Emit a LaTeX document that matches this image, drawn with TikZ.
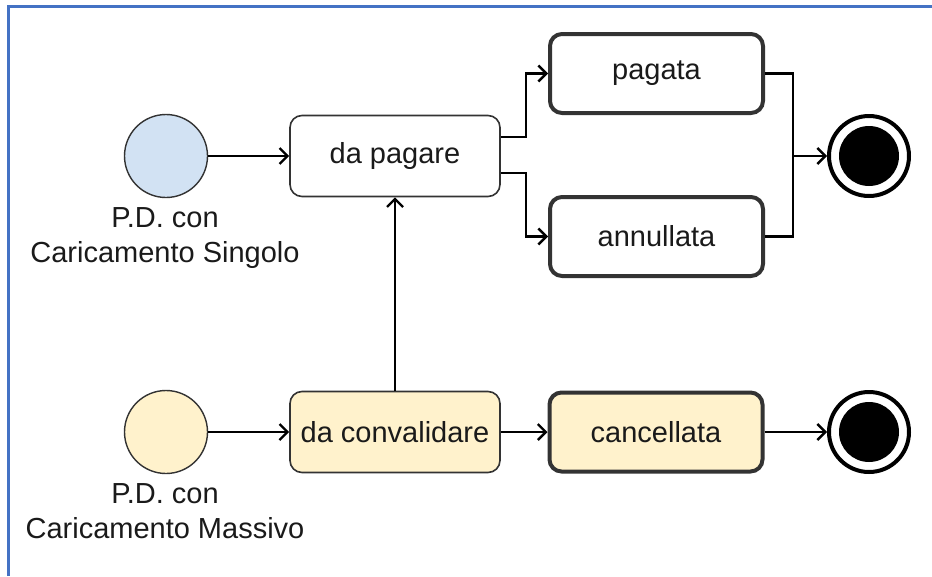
\documentclass[tikz,border=0pt]{standalone}
\usepackage{fontspec}
\setmainfont{Liberation Sans}
\usetikzlibrary{arrows.meta}
\definecolor{frameblue}{HTML}{4472C4}
\definecolor{startblue}{HTML}{D2E2F3}
\definecolor{paleyellow}{HTML}{FFF2CC}
\definecolor{edge}{HTML}{333333}
\definecolor{txt}{HTML}{1A1A1A}
\tikzset{
  big/.style={font=\fontsize{29}{35}\selectfont, text=txt},
  thinbox/.style={big, rectangle, rounded corners=12pt, draw=edge, line width=1.6pt,
    minimum width=210pt, minimum height=81pt, inner sep=0pt, fill=white},
  thickbox/.style={big, rectangle, rounded corners=12pt, draw=edge, line width=4pt,
    minimum width=213pt, minimum height=79pt, inner sep=0pt, fill=white},
  startnode/.style={circle, draw=edge, line width=1.4pt, minimum size=83pt, inner sep=0pt},
  endouter/.style={circle, draw=black, line width=4pt, minimum size=80pt, inner sep=0pt, fill=white},
  endinner/.style={circle, fill=black, minimum size=60pt, inner sep=0pt},
  lbl/.style={big, align=center, inner sep=0pt},
  conn/.style={draw=black, line width=2.4pt},
  arr/.style={conn, -{Straight Barb[length=8pt,width=16pt,line width=2.4pt]}}
}
\begin{document}
\begin{tikzpicture}[x=1pt,y=-1pt]
\useasboundingbox (0,0) rectangle (932,576);
\draw[frameblue, line width=3pt] (8.5,576) -- (8.5,6.5) -- (932,6.5);

% row 1
\node[startnode, fill=startblue] (s1) at (166,156) {};
\node[lbl, anchor=base] (l1) at (165,262) {P.D. con\\Caricamento Singolo};
\node[thinbox] (dp) at (395,156) {da pagare};
\node[thickbox] (pg) at (656.5,73.5) {pagata};
\node[thickbox] (an) at (656.5,236.5) {annullata};
\node[endouter] (e1) at (869,156) {};
\node[endinner] (e1in) at (869,156) {};
\coordinate (j) at (793,156);

% row 2
\node[startnode, fill=paleyellow] (s2) at (166,432) {};
\node[lbl, anchor=base] (l2) at (165,538) {P.D. con\\Caricamento Massivo};
\node[thinbox, fill=paleyellow] (dc) at (395,432) {da convalidare};
\node[thickbox, fill=paleyellow] (cc) at (656,432) {cancellata};
\node[endouter] (e2) at (869,432) {};
\node[endinner] (e2in) at (869,432) {};

% connectors
\draw[arr] (s1) -- (dp);
\draw[arr] ([yshift=19pt]dp.east) -- ++(25,0) |- (pg.west);
\draw[arr] ([yshift=-17pt]dp.east) -- ++(25,0) |- (an.west);
\draw[conn] (pg.east) -| (j);
\draw[conn] (an.east) -| (j);
\draw[arr] (j) -- (e1);

\draw[arr] (s2) -- (dc);
\draw[arr] (dc) -- (dp);
\draw[arr] (dc) -- (cc);
\draw[arr] (cc) -- (e2);
\end{tikzpicture}
\end{document}
